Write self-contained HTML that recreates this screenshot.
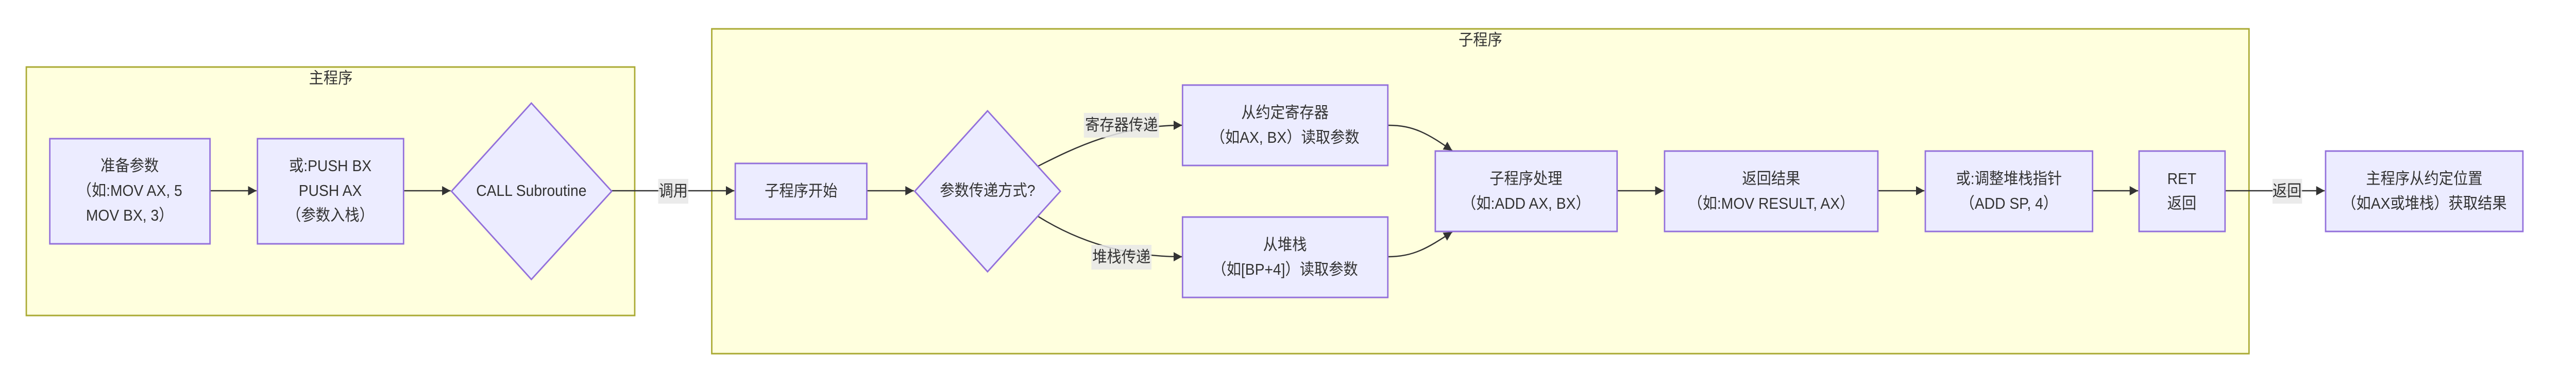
<!DOCTYPE html>
<html><head><meta charset="utf-8"><style>
html,body{margin:0;padding:0;background:#fff;width:100%;height:100%;overflow:hidden;}
svg{display:block;width:100vw;height:100vh;}
text{font-family:"Liberation Sans","Noto Sans CJK SC",sans-serif;font-size:31px;fill:#333;text-anchor:middle;dominant-baseline:central;}
.c{fill:#ffffde;stroke:#aaaa33;stroke-width:3;}
.n{fill:#ececff;stroke:#9370db;stroke-width:3;}
.e{fill:none;stroke:#333;stroke-width:2.5;}
.lb{fill:#e8e8e8;opacity:0.85;}
</style></head><body>
<svg viewBox="0 0 5483 741" preserveAspectRatio="none" xmlns="http://www.w3.org/2000/svg">
<defs>
<marker id="b" viewBox="0 0 10 10" refX="10" refY="5" markerWidth="18" markerHeight="18" orient="auto" markerUnits="userSpaceOnUse"><path d="M0,0L10,5L0,10z" fill="#333"/></marker></defs>
<rect class="c" x="56" y="130" width="1295" height="482"/>
<text x="704" y="152">主程序</text>
<rect class="c" x="1515" y="56" width="3272" height="630"/>
<text x="3151" y="78">子程序</text>

<path class="e" d="M448,370H546" marker-end="url(#b)"/>
<path class="e" d="M860,370H959" marker-end="url(#b)"/>
<path class="e" d="M1302,370H1563" marker-end="url(#b)"/>
<path class="e" d="M1846,370H1945" marker-end="url(#b)"/>
<path class="e" d="M2210,322 C2280,290 2380,243 2516,243" marker-end="url(#b)"/>
<path class="e" d="M2210,420 C2280,460 2380,498 2516,498" marker-end="url(#b)"/>
<path class="e" d="M2955,243 C3010,243 3040,260 3091,292" marker-end="url(#b)"/>
<path class="e" d="M2955,498 C3010,498 3040,480 3091,450" marker-end="url(#b)"/>
<path class="e" d="M3443,370H3541" marker-end="url(#b)"/>
<path class="e" d="M3998,370H4096" marker-end="url(#b)"/>
<path class="e" d="M4455,370H4551" marker-end="url(#b)"/>
<path class="e" d="M4737,370H4948" marker-end="url(#b)"/>

<rect class="lb" x="1401" y="347" width="64" height="48"/><text x="1433" y="371">调用</text>
<rect class="lb" x="2307" y="219" width="160" height="48"/><text x="2387" y="243">寄存器传递</text>
<rect class="lb" x="2323" y="475" width="128" height="48"/><text x="2387" y="499">堆栈传递</text>
<rect class="lb" x="4837" y="347" width="63" height="48"/><text x="4868" y="371">返回</text>

<rect class="n" x="106" y="269" width="341" height="204"/>
<text x="276" y="322">准备参数</text><text x="276" y="370">（如:MOV AX, 5</text><text x="276" y="418">MOV BX, 3）</text>
<rect class="n" x="548" y="269" width="311" height="204"/>
<text x="703" y="322">或:PUSH BX</text><text x="703" y="370">PUSH AX</text><text x="703" y="418">（参数入栈）</text>
<polygon class="n" points="1131,200 1302,371 1131,542 961,371"/>
<text x="1131" y="370">CALL Subroutine</text>

<rect class="n" x="1565" y="317" width="280" height="108"/>
<text x="1705" y="371">子程序开始</text>
<polygon class="n" points="2102,215 2257,371 2102,527 1947,371"/>
<text x="2102" y="370">参数传递方式?</text>
<rect class="n" x="2517" y="165" width="437" height="156"/>
<text x="2735" y="219">从约定寄存器</text><text x="2735" y="267">（如AX, BX）读取参数</text>
<rect class="n" x="2517" y="421" width="437" height="156"/>
<text x="2735" y="475">从堆栈</text><text x="2735" y="523">（如[BP+4]）读取参数</text>
<rect class="n" x="3055" y="293" width="387" height="156"/>
<text x="3248" y="347">子程序处理</text><text x="3248" y="395">（如:ADD AX, BX）</text>
<rect class="n" x="3543" y="293" width="454" height="156"/>
<text x="3770" y="347">返回结果</text><text x="3770" y="395">（如:MOV RESULT, AX）</text>
<rect class="n" x="4098" y="293" width="356" height="156"/>
<text x="4276" y="347">或:调整堆栈指针</text><text x="4276" y="395">（ADD SP, 4）</text>
<rect class="n" x="4553" y="293" width="183" height="156"/>
<text x="4644" y="347">RET</text><text x="4644" y="395">返回</text>
<rect class="n" x="4950" y="293" width="420" height="156"/>
<text x="5160" y="347">主程序从约定位置</text><text x="5160" y="395">（如AX或堆栈）获取结果</text>
</svg>
</body></html>
